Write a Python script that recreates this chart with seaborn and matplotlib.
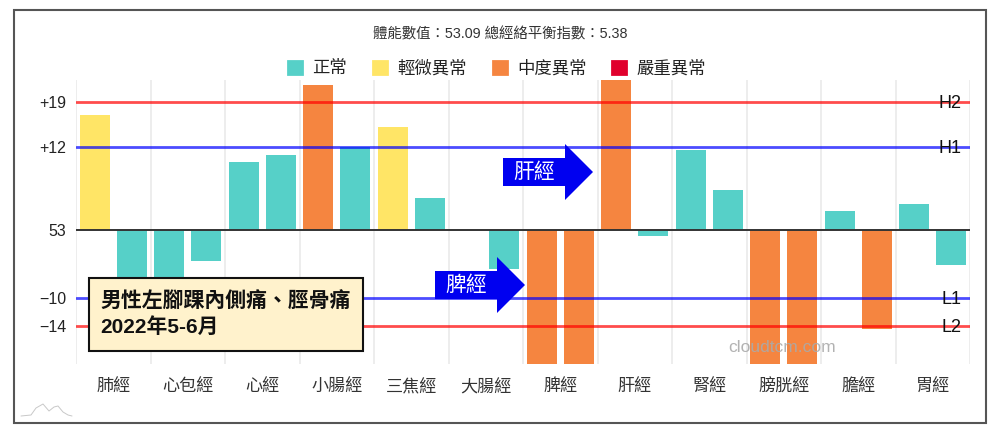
import matplotlib
matplotlib.use('Agg')
import matplotlib.pyplot as plt
from matplotlib.patches import Patch, Polygon, Rectangle
from matplotlib.lines import Line2D
import numpy as np
import pandas as pd
import seaborn as sns

W, H = 1000, 434

meridians = ['肺經', '心包經', '心經', '小腸經', '三焦經', '大腸經', '脾經', '肝經', '腎經', '膀胱經', '膽經', '胃經']
left_values = [16.9, -8.0, 10.05, 21.4, 15.2, 0.0, -22.0, 23.0, 11.8, -22.0, 2.8, 3.9]
right_values = [-8.0, -4.5, 11.1, 12.2, 4.75, -5.65, -22.0, -0.9, 5.9, -22.0, -14.5, -5.1]
left_levels = ['輕微異常', '正常', '正常', '中度異常', '輕微異常', '正常', '中度異常', '中度異常', '正常', '中度異常', '正常', '正常']
right_levels = ['正常', '正常', '正常', '正常', '正常', '正常', '中度異常', '正常', '正常', '中度異常', '中度異常', '正常']

level_names = ['正常', '輕微異常', '中度異常', '嚴重異常']
level_colors = ['#56D0C8', '#FFE566', '#F58540', '#E0002D']

tick_values = [18.9, 12.2, 0, -10, -14.05]
tick_labels = ['+19', '+12', '53', '−10', '−14']
limit_values = [18.9, 12.2, -10, -14.05]
limit_names = ['H2', 'H1', 'L1', 'L2']
limit_colors = ['#FF0000', '#0000FF', '#0000FF', '#FF0000']

sns.set_theme(style='white')
plt.rcParams['font.family'] = ['Liberation Sans', 'Noto Sans CJK TC', 'DejaVu Sans']
plt.rcParams['axes.unicode_minus'] = False


def px(x, y):
    # picture pixels to figure fractions
    return x / W, 1 - y / H


fig = plt.figure(figsize=(W / 100, H / 100), dpi=100)
ax = fig.add_axes([0.076, 1 - 363.7 / H, 0.894, (363.7 - 80) / H])

df = pd.DataFrame({
    'meridian': meridians * 2,
    'value': left_values + right_values,
    'side': ['left'] * 12 + ['right'] * 12,
})
sns.barplot(data=df, x='meridian', y='value', hue='side', width=1.0, gap=0.2,
            legend=False, saturation=1, ax=ax, zorder=2)

color_of = dict(zip(level_names, level_colors))
for container, levels in zip(ax.containers, [left_levels, right_levels]):
    for bar, level in zip(container, levels):
        bar.set_facecolor(color_of[level])
        bar.set_edgecolor('none')

ax.set_xlim(-0.5, 11.5)
ax.set_ylim(-19.6, 22.1)
ax.set_xlabel('')
ax.set_ylabel('')
ax.set_yticks(tick_values, tick_labels)
ax.set_xticks(np.arange(-0.5, 12), minor=True)
ax.grid(False)
ax.grid(which='minor', axis='x', color='#E8E8E8', lw=1.1, zorder=0)
ax.tick_params(axis='x', which='major', length=0, pad=11, labelsize=12.3, labelcolor='#333333')
ax.tick_params(axis='x', which='minor', length=0)
ax.tick_params(axis='y', length=0, pad=7, labelsize=11.5, labelcolor='#222222')
sns.despine(ax=ax, left=True, bottom=True)

for value, name, color in zip(limit_values, limit_names, limit_colors):
    ax.axhline(value, color=color, lw=2, alpha=0.7, zorder=3)
    ax.text(11.38, value - 0.2, name, ha='right', va='center', fontsize=13, color='#111111', zorder=4)
ax.axhline(0, color='#333333', lw=1.4, zorder=3)

# outer frame, title, legend
fig.add_artist(Rectangle(px(14, 422.5), 972 / W, 412.5 / H, transform=fig.transFigure,
                         fill=False, edgecolor='#555555', lw=1.5))
x, y = px(500, 34)
fig.text(x, y, '體能數值：53.09 總經絡平衡指數：5.38', ha='center', va='center', fontsize=10.4, color='#333333')

handles = [Patch(facecolor=c, edgecolor=c, lw=2, joinstyle='round', label=n)
           for c, n in zip(level_colors, level_names)]
fig.legend(handles=handles, ncols=4, loc='center', bbox_to_anchor=px(497, 68), frameon=False,
           fontsize=12.5, handlelength=0.8, handleheight=0.8, handletextpad=0.6, columnspacing=1.5,
           labelcolor='#222222')

# blue arrows
for x0, y0, label in [(503, 172, '肝經'), (435, 285, '脾經')]:
    pts = [(x0, y0 - 14), (x0 + 62, y0 - 14), (x0 + 62, y0 - 28), (x0 + 90, y0),
           (x0 + 62, y0 + 28), (x0 + 62, y0 + 14), (x0, y0 + 14)]
    fig.add_artist(Polygon([px(a, b) for a, b in pts], closed=True, transform=fig.transFigure,
                           facecolor='#0000F0', edgecolor='none', zorder=5))
    tx, ty = px(x0 + 31, y0)
    fig.text(tx, ty, label, ha='center', va='center', fontsize=15, color='white', zorder=6)

# note box
fig.add_artist(Rectangle(px(89, 350.5), 274 / W, 72.5 / H, transform=fig.transFigure,
                         facecolor='#FFF2CC', edgecolor='#111111', lw=1.5, zorder=5))
for line, yy in [('男性左腳踝內側痛、脛骨痛', 301.5), ('2022年5-6月', 327)]:
    tx, ty = px(100.5, yy)
    fig.text(tx, ty, line, ha='left', va='center', fontsize=15, fontweight='bold', color='#111111', zorder=6)

# watermark and small logo
tx, ty = px(782, 347)
fig.text(tx, ty, 'cloudtcm.com', ha='center', va='center', fontsize=12.5, color='#AAAAAA', alpha=0.9, zorder=6)
logo_x = [21, 31, 36, 43, 49, 54, 58, 63, 68, 72]
logo_y = [416, 415, 408, 404, 411, 407, 406, 412, 415, 416]
fig.add_artist(Line2D([px(a, b)[0] for a, b in zip(logo_x, logo_y)],
                      [px(a, b)[1] for a, b in zip(logo_x, logo_y)],
                      transform=fig.transFigure, color='#C8C8C8', lw=0.7))

fig.savefig('out.png', dpi=100)
